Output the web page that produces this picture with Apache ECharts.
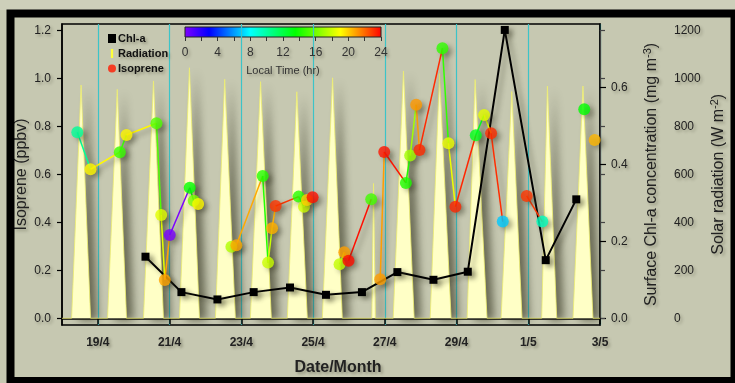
<!DOCTYPE html>
<html><head><meta charset="utf-8">
<script src="https://cdn.jsdelivr.net/npm/echarts@6/dist/echarts.min.js"></script>
<style>html,body{margin:0;padding:0;background:#c6c8b1;overflow:hidden}#c{width:735px;height:383px}</style>
</head><body><div id="c"></div>
<script>
const YEAR = 2013;
// x axis
const xStart = '04-18 00:00', xEnd = '05-03 00:00';
const xTickDates = ['04-19 00:00','04-21 00:00','04-23 00:00','04-25 00:00','04-27 00:00','04-29 00:00','05-01 00:00','05-03 00:00'];
const xTickLabels = ['19/4','21/4','23/4','25/4','27/4','29/4','1/5','3/5'];
// Chl-a
const chlTimes = ['04-20 07:52','04-21 07:55','04-22 08:00','04-23 08:15','04-24 08:35','04-25 08:38','04-26 08:42','04-27 08:25','04-28 08:33','04-29 07:32','04-30 08:17','05-01 11:41','05-02 08:08'];
const chlValues = [0.160,0.068,0.049,0.068,0.080,0.061,0.068,0.120,0.100,0.121,0.749,0.151,0.309];
// Isoprene (connected runs of points)
const isoTimes = ['04-18 10:14','04-18 19:07','04-19 14:41','04-19 19:10','04-20 15:13','04-20 18:22','04-20 20:47','04-21 00:07','04-21 13:29','04-21 16:09','04-21 19:06',
 '04-22 17:21','04-22 20:41','04-23 14:17','04-23 17:53','04-23 20:33','04-23 22:58','04-24 14:20','04-24 17:56','04-24 19:56','04-24 23:41',
 '04-25 17:44','04-25 20:53','04-25 23:44','04-26 14:55',
 '04-26 20:56','04-26 23:37','04-27 14:07','04-27 16:59','04-27 21:00','04-27 23:12','04-28 14:34','04-28 18:35','04-28 23:15','04-29 12:53','04-29 18:26','04-29 23:07','04-30 06:56',
 '04-30 22:58','05-01 09:24',
 '05-02 13:28',
 '05-02 20:25'];
const isoValues = [0.775,0.621,0.692,0.764,0.813,0.430,0.160,0.347,0.544,0.490,0.476,
 0.298,0.304,0.593,0.232,0.375,0.468,0.507,0.465,0.493,0.504,
 0.225,0.275,0.240,0.496,
 0.163,0.693,0.564,0.678,0.890,0.701,1.125,0.729,0.465,0.763,0.847,0.771,0.403,
 0.510,0.403,
 0.871,
 0.743];
const isoRuns = [11,10,4,13,2,1,1];
// Solar radiation
const radTimes = ['04-18 00:00',
 '04-18 06:26','04-18 12:46','04-18 19:08',
 '04-19 06:29','04-19 12:58','04-19 19:10',
 '04-20 06:32','04-20 13:13','04-20 19:54',
 '04-21 06:36','04-21 13:16','04-21 19:58',
 '04-22 06:40','04-22 12:52','04-22 20:02',
 '04-23 06:03','04-23 12:52','04-23 20:05',
 '04-24 06:47','04-24 13:08','04-24 20:10',
 '04-25 06:12','04-25 13:03','04-25 19:34',
 '04-26 15:20','04-26 16:28','04-26 17:40',
 '04-27 05:37','04-27 12:30','04-27 19:39',
 '04-28 06:22','04-28 12:35','04-28 20:22',
 '04-29 07:05','04-29 12:26','04-29 20:24',
 '04-30 05:48','04-30 12:58','04-30 19:50',
 '05-01 08:59','05-01 12:49','05-01 19:02',
 '05-02 05:56','05-02 12:36','05-02 19:18',
 '05-03 00:00'];
const radValues = [0, 0,972,0, 0,954,0, 0,989,0, 0,1044,0, 0,996,0, 0,986,0, 0,944,0, 0,1002,0, 0,562,0, 0,1030,0, 0,1020,0, 0,995,0, 0,945,0, 0,968,0, 0,968,0, 0];
// axis ticks
const isoTicks = [0,0.2,0.4,0.6,0.8,1.0,1.2];
const chlTicks = [0,0.2,0.4,0.6];
const radTicks = [0,200,400,600,800,1000,1200];
const hourTicks = [0,4,8,12,16,20,24];

// ---- helpers ----
// days elapsed since xStart (value axis in days)
function T(s){const [md,hm]=s.split(' ');const [mo,d]=md.split('-').map(Number);const [h,mi]=hm.split(':').map(Number);return Date.UTC(YEAR,mo-1,d,h,mi);}
const T0=T(xStart);
function D(s){return (T(s)-T0)/86400000;}
function hourOf(day){return (day-Math.floor(day))*24;}
const cmapStops=[[0,[128,0,255]],[3,[0,0,255]],[8,[0,255,255]],[13.5,[0,255,0]],[19,[255,255,0]],[21.5,[255,128,0]],[24,[255,0,0]]];
function cmap(h){for(let i=1;i<cmapStops.length;i++){const [h1,c1]=cmapStops[i];const [h0,c0]=cmapStops[i-1];if(h<=h1){const f=(h-h0)/(h1-h0);return 'rgb('+c0.map((c,k)=>Math.round(c+(c1[k]-c)*f)).join(',')+')';}}return 'rgb(255,0,0)';}

// geometry of the main plot
const G={left:62,top:24,width:538,height:301};
const zeroY=318.3, isoPx=240, chlPx=385, radPx=0.24;
const below=(G.top+G.height)-zeroY, above=zeroY-G.top;
const FONT="'Liberation Sans', Arial, sans-serif";
const tsh={textShadowColor:'rgba(50,50,30,0.35)',textShadowBlur:3,textShadowOffsetX:2,textShadowOffsetY:2};
const shadow={shadowColor:'rgba(50,50,30,0.45)',shadowBlur:5,shadowOffsetX:4,shadowOffsetY:3};

const isoPts=isoTimes.map((s,i)=>[D(s),isoValues[i]]);
const segs=[];let idx=0;
isoRuns.forEach(n=>{for(let k=0;k<n-1;k++){const a=isoPts[idx+k],b=isoPts[idx+k+1];segs.push([a[0],a[1],b[0],b[1],hourOf(a[0])]);}idx+=n;});
const xTickNums=xTickDates.map(D);

const chart=echarts.init(document.getElementById('c'),null,{renderer:'canvas'});
const lbl=v=>v.toFixed(1);
const option={
 animation:false,
 textStyle:{fontFamily:FONT},
 graphic:[
  {type:'rect',z:-1,shape:{x:0,y:0,width:735,height:10},style:{fill:'#cdcfba'}},
  {type:'rect',z:100,shape:{x:10.5,y:13.5,width:724,height:367.5},style:{fill:'none',stroke:'#000',lineWidth:8}}
 ],
 grid:[
  {left:G.left,top:G.top,width:G.width,height:G.height,show:true,borderColor:'#000',borderWidth:1.5,backgroundColor:'transparent'},
  {left:185,top:27,width:196,height:10,show:true,borderColor:'#222',borderWidth:1,
   backgroundColor:new echarts.graphic.LinearGradient(0,0,1,0,cmapStops.map(([h,c])=>({offset:h/24,color:'rgb('+c.join(',')+')'})))},
  {left:600,top:zeroY-1200*radPx,width:66,height:1200*radPx,show:false}
 ],
 legend:{orient:'vertical',left:103,top:28,itemWidth:8,itemHeight:9,itemGap:4,
  textStyle:Object.assign({fontSize:11,fontWeight:'bold',color:'#111',padding:[0,0,0,-3]},tsh),
  data:[{name:'Chl-a',icon:'rect'},{name:'Radiation',icon:'path://M0,0L3,0L3,12L0,12Z',itemStyle:{color:'#ffff3a'}},{name:'Isoprene',icon:'circle',itemStyle:{color:'#ff1a00'}}]},
 xAxis:[
  {type:'value',gridIndex:0,min:0,max:D(xEnd),
   axisLine:{show:true,lineStyle:{color:'#000',width:1.5}},
   axisTick:{show:true,length:6,customValues:xTickNums,lineStyle:{color:'#000',width:1.5}},
   axisLabel:{customValues:xTickNums,formatter:v=>{const i=xTickNums.findIndex(x=>Math.abs(x-v)<1e-6);return i>=0?xTickLabels[i]:'';},
     fontSize:12,fontWeight:'bold',color:'#222',margin:12,...tsh},
   splitLine:{show:true,lineStyle:{color:'#3cc4c8',width:1.2}},
   name:'Date/Month',nameLocation:'middle',nameGap:35,nameMoveOverlap:false,nameTextStyle:{fontSize:16,fontWeight:'bold',color:'#222',padding:[0,0,0,14],...tsh}},
  {type:'value',gridIndex:1,min:0,max:24,interval:4,position:'bottom',
   axisLine:{show:false},axisTick:{show:true,length:4,lineStyle:{color:'#333'}},
   minorTick:{show:true,splitNumber:2,length:4,lineStyle:{color:'#333'}},
   axisLabel:{fontSize:12,color:'#333',margin:10,...tsh},splitLine:{show:false},
   name:'Local Time (hr)',nameLocation:'middle',nameGap:28,nameMoveOverlap:false,nameTextStyle:{fontSize:11,color:'#333',...tsh}},
  {type:'value',gridIndex:2,show:false,min:0,max:1}
 ],
 yAxis:[
  {type:'value',gridIndex:0,position:'left',min:-below/isoPx,max:above/isoPx,
   axisLine:{show:true,lineStyle:{color:'#000',width:1.5}},
   axisTick:{show:true,length:5,customValues:isoTicks,lineStyle:{color:'#000',width:1.2}},
   axisLabel:{customValues:isoTicks,formatter:lbl,fontSize:12,color:'#222',margin:11,...tsh},
   splitLine:{show:false},
   name:'Isoprene (ppbv)',nameLocation:'middle',nameRotate:90,nameGap:32,nameMoveOverlap:false,nameTextStyle:{fontSize:16,color:'#222',...tsh}},
  {type:'value',gridIndex:0,position:'right',min:-below/chlPx,max:above/chlPx,
   axisLine:{show:true,lineStyle:{color:'#000',width:1.5}},
   axisTick:{show:true,length:6,customValues:chlTicks,lineStyle:{color:'#000',width:1.2}},
   axisLabel:{customValues:chlTicks,formatter:lbl,fontSize:12,color:'#222',margin:11,...tsh},
   splitLine:{show:false},
   name:'{a|Surface Chl-a concentration (mg m}{b|-3}{a|)}',nameLocation:'middle',nameRotate:90,nameGap:42,nameMoveOverlap:false,
   nameTextStyle:{...tsh,rich:{a:{fontSize:16,color:'#222',lineHeight:20,fontFamily:FONT,...tsh},b:{fontSize:11,color:'#222',lineHeight:11,verticalAlign:'top',fontFamily:FONT,...tsh}}}},
  {type:'value',gridIndex:0,show:false,min:-below/radPx,max:above/radPx,splitLine:{show:false}},
  {type:'value',gridIndex:1,show:false,min:0,max:1},
  {type:'value',gridIndex:2,position:'right',min:0,max:1200,interval:200,
   axisLine:{show:true,lineStyle:{color:'#444',width:1.2}},
   axisTick:{show:true,length:5,lineStyle:{color:'#444',width:1.2}},
   axisLabel:{fontSize:12,color:'#222',margin:8,formatter:v=>String(v),...tsh},splitLine:{show:false},
   name:'{a|Solar radiation (W m}{b|-2}{a|)}',nameLocation:'middle',nameRotate:90,nameGap:43,nameMoveOverlap:false,
   nameTextStyle:{...tsh,rich:{a:{fontSize:16,color:'#222',lineHeight:20,fontFamily:FONT,...tsh},b:{fontSize:11,color:'#222',lineHeight:11,verticalAlign:'top',fontFamily:FONT,...tsh}}}}
 ],
 series:[
  {name:'Radiation',type:'line',xAxisIndex:0,yAxisIndex:2,symbol:'none',z:1,
   data:radTimes.map((s,i)=>[D(s),radValues[i]]),
   lineStyle:{color:'#eeee70',width:0.8},
   areaStyle:{color:'#ffffc6',opacity:1,shadowColor:'rgba(40,40,20,0.6)',shadowBlur:8,shadowOffsetX:7,shadowOffsetY:2},
   itemStyle:{color:'#ffff3a'}},
  {name:'Chl-a',type:'line',xAxisIndex:0,yAxisIndex:1,symbol:'rect',symbolSize:8,z:3,
   data:chlTimes.map((s,i)=>[D(s),chlValues[i]]),
   itemStyle:{color:'#000',...shadow},lineStyle:{color:'#000',width:2,...shadow}},
  {name:'isoLines',type:'custom',xAxisIndex:0,yAxisIndex:0,z:4,encode:{x:[0,2],y:[1,3]},
   data:segs,
   renderItem:(params,api)=>{const p1=api.coord([api.value(0),api.value(1)]),p2=api.coord([api.value(2),api.value(3)]);
     return {type:'line',shape:{x1:p1[0],y1:p1[1],x2:p2[0],y2:p2[1]},style:{stroke:cmap(api.value(4)),lineWidth:1.5,...shadow}};}},
  {name:'Isoprene',type:'scatter',xAxisIndex:0,yAxisIndex:0,symbolSize:12,z:5,
   data:isoPts.map(p=>({value:p,itemStyle:{color:cmap(hourOf(p[0]))}})),
   itemStyle:{color:'#ff1a00',...shadow}}
 ]
};
chart.setOption(option);
</script></body></html>
